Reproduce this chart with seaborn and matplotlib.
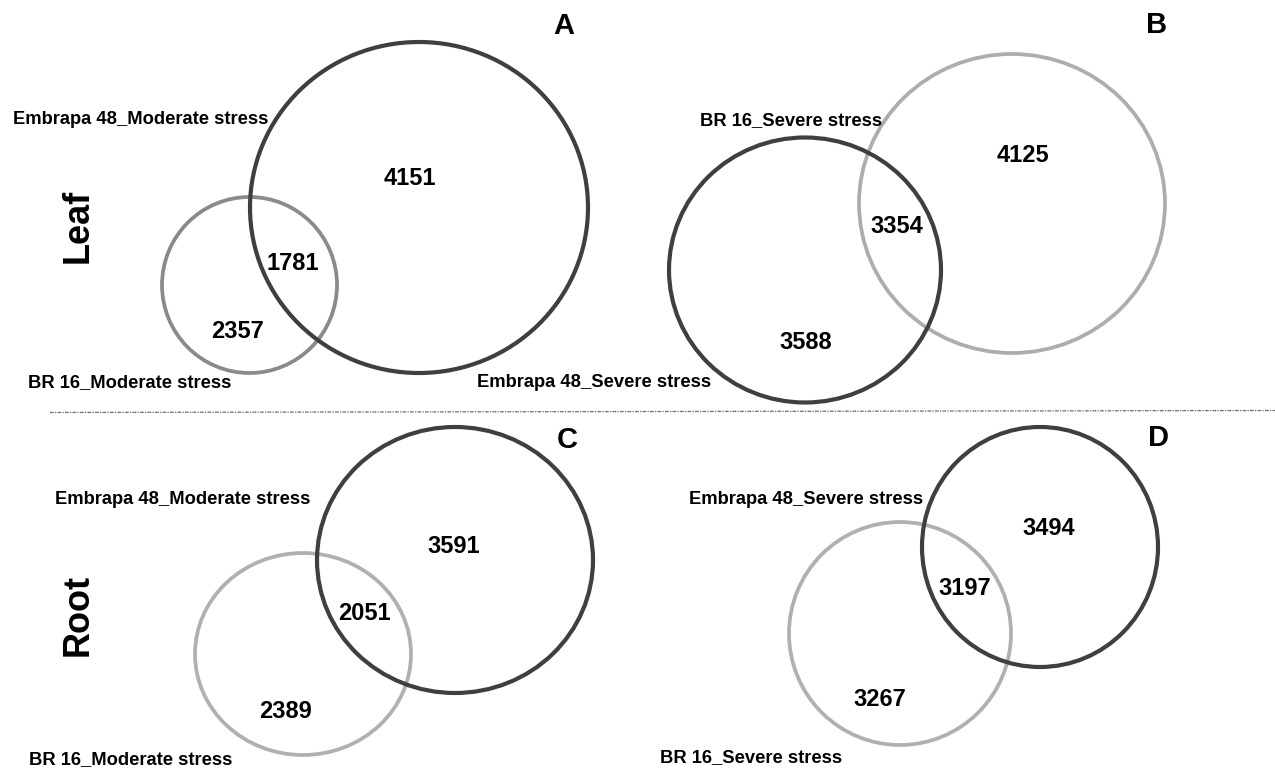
import matplotlib
matplotlib.use("Agg")
import matplotlib.pyplot as plt
from matplotlib.patches import Ellipse
import seaborn as sns

sns.set_theme(style="white")
plt.rcParams["font.family"] = ["Liberation Sans", "DejaVu Sans"]
plt.rcParams["font.weight"] = "bold"

# ---- data: overlap counts for each comparison ----
panels = ["A", "B", "C", "D"]
tissues = ["Leaf", "Root"]
set1_names = ["Embrapa 48_Moderate stress", "BR 16_Severe stress",
              "Embrapa 48_Moderate stress", "Embrapa 48_Severe stress"]
set2_names = ["BR 16_Moderate stress", "Embrapa 48_Severe stress",
              "BR 16_Moderate stress", "BR 16_Severe stress"]
only_set1 = [4151, 3588, 3591, 3494]
shared = [1781, 3354, 2051, 3197]
only_set2 = [2357, 4125, 2389, 3267]

# ---- layout (figure pixels, y downwards) ----
W, H = 1275, 768
# circle for set 1 and set 2 in each panel: (cx, cy, width, height)
circ1 = [(419, 207.5, 338, 331), (805, 270, 272, 265),
         (455, 560, 276, 266), (1040, 547, 236, 240)]
circ2 = [(249.5, 285, 175, 176), (1012, 203.5, 306, 299),
         (303, 654, 216, 202), (900, 633.5, 222, 223)]
col1 = ["#3f3f3f", "#3f3f3f", "#3f3f3f", "#3f3f3f"]
col2 = ["#8a8a8a", "#adadad", "#b0b0b0", "#b0b0b0"]
lw1 = [3.0, 3.0, 3.0, 3.0]
lw2 = [2.7, 2.7, 2.7, 2.7]
# count label positions: only set1, shared, only set2
pos_only1 = [(409.5, 177), (806, 341), (454, 545), (1049, 527)]
pos_shared = [(293, 262), (897, 225), (364, 612), (965, 587)]
pos_only2 = [(237.5, 330), (1023, 154), (285, 710), (880, 698)]
# set name positions (left edge, vertical centre)
name1_pos = [(13, 117), (700, 118), (55, 497), (689, 497)]
name2_pos = [(28, 380), (477, 380), (29, 757), (660, 755)]
letter_pos = [(564, 24), (1157, 23), (567, 438), (1158, 436)]
tissue_pos = [(75, 226), (75, 615)]

fig = plt.figure(figsize=(W / 100, H / 100), dpi=100)
ax = fig.add_axes([0, 0, 1, 1])
ax.set_xlim(0, W)
ax.set_ylim(H, 0)
ax.set_axis_off()

NUM_FS, NAME_FS, LET_FS, TIS_FS = 17, 13.2, 21, 26
px = 100 / 72  # points -> pixels
cap = 0.716     # cap height / em


def put(x, yc, s, fs, ha="center"):
    ax.text(x, yc + cap * fs * px / 2, s, fontsize=fs, fontweight="bold",
            ha=ha, va="baseline", color="black")


for i in range(4):
    cx, cy, w, h = circ1[i]
    ax.add_patch(Ellipse((cx, cy), w, h, fill=False, ec=col1[i], lw=lw1[i], zorder=3))
    cx, cy, w, h = circ2[i]
    ax.add_patch(Ellipse((cx, cy), w, h, fill=False, ec=col2[i], lw=lw2[i], zorder=2))

    put(*pos_only1[i], f"{only_set1[i]}", NUM_FS)
    put(*pos_shared[i], f"{shared[i]}", NUM_FS)
    put(*pos_only2[i], f"{only_set2[i]}", NUM_FS)

    put(*name1_pos[i], set1_names[i], NAME_FS, ha="left")
    put(*name2_pos[i], set2_names[i], NAME_FS, ha="left")
    put(*letter_pos[i], panels[i], LET_FS)

for (x, yc), t in zip(tissue_pos, tissues):
    ax.text(x + cap * TIS_FS * px / 2, yc, t, fontsize=TIS_FS, fontweight="bold",
            rotation=90, rotation_mode="anchor", ha="center", va="baseline",
            color="black")

# dotted divider between leaf and root panels
ax.plot([50, W], [412.5, 410.5], color="#6e6e6e", lw=0.9,
        linestyle=(0, (3, 1, 1, 1)), zorder=1)

fig.savefig("out.png", dpi=100, facecolor="white")
